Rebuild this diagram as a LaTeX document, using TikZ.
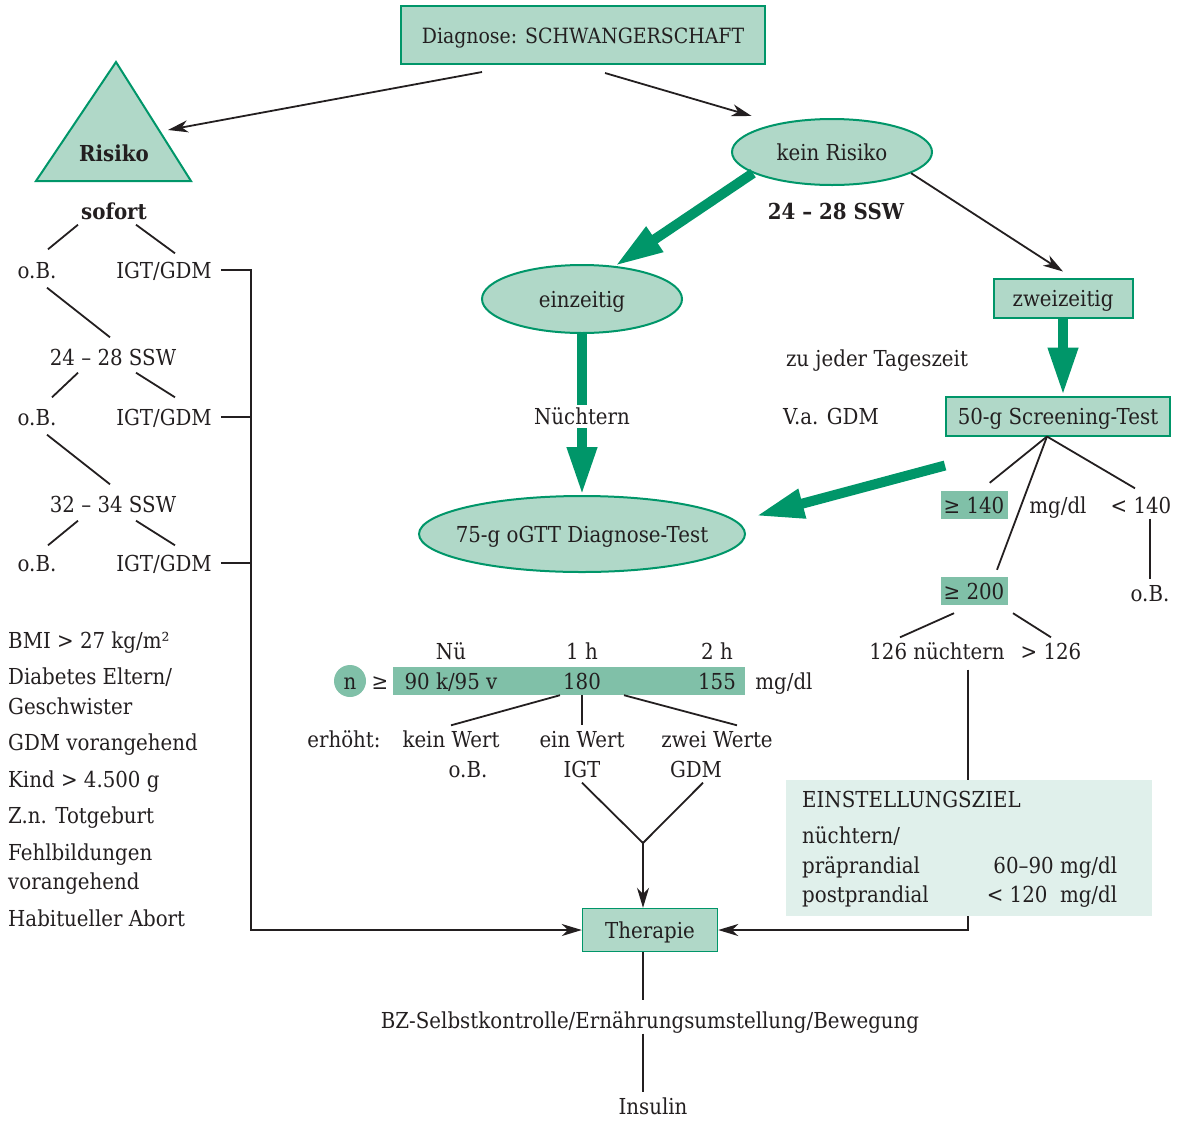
\documentclass[tikz,border=0pt]{standalone}
\usepackage{fontspec}
\setmainfont{DejaVu Serif}[FakeStretch=0.9]
\usetikzlibrary{arrows.meta,shapes.geometric}
\definecolor{ink}{RGB}{35,31,32}
\definecolor{gdmgreen}{RGB}{0,150,105}
\definecolor{gdmfill}{RGB}{176,216,200}
\definecolor{gdmdark}{RGB}{128,192,168}
\definecolor{gdmpale}{RGB}{224,240,235}

\begin{document}
\fontsize{22}{29.5}\selectfont
\begin{tikzpicture}[x=1pt,y=-1pt,color=ink,
  every node/.style={text height=19pt,text depth=2pt,inner sep=3pt},
  box/.style={draw=gdmgreen,line width=2pt,fill=gdmfill},
  oval/.style={ellipse,draw=gdmgreen,line width=2pt,fill=gdmfill,inner sep=0pt},
  val/.style={fill=gdmdark},
  tie/.style={line width=1.8pt},
  flow/.style={line width=1.8pt,-{Stealth[length=20pt,width=12pt,inset=6pt]}},
  bigflow/.style={draw=gdmgreen,line width=10pt,-{Triangle[length=48pt,width=28pt]}}]

\useasboundingbox (0,0) rectangle (1178,1120);

\draw [gdmgreen,fill=gdmfill,line width=2pt] (116,62) -- (191,181) -- (36,181) -- cycle;
\coordinate (riskedge) at (168,130);

\node[box,minimum width=364,minimum height=58,font=\fontsize{21}{26}\selectfont] (diag) at (583,35) {Diagnose: SCHWANGERSCHAFT};
\node[font=\bfseries] (risk) at (114,153) {Risiko};
\node[oval,minimum width=200,minimum height=66] (kein) at (832,152) {kein Risiko};
\node[font=\bfseries] (ssw) at (836,211) {24 – 28 SSW};
\node[oval,minimum width=200,minimum height=68] (einz) at (582,299) {einzeitig};
\node[box,minimum width=139,minimum height=39] (zwei) at (1063,298) {zweizeitig};
\node (tag) at (877,358) {zu jeder Tageszeit};
\node (verd) at (831,416) {V.a. GDM};
\node[box,minimum width=224,minimum height=39,inner xsep=0pt] (screen) at (1058,416) {50-g Screening-Test};
\node[oval,minimum width=326,minimum height=76,inner xsep=-14pt] (ogtt) at (582,534) {75-g oGTT Diagnose-Test};
\node[val,minimum width=67,minimum height=28,inner xsep=0pt] (ge140) at (974,505) {≥ 140};
\node (unit1) at (1058,505) {mg/dl};
\node (lt140) at (1141,505) {< 140};
\node (obr) at (1150,593) {o.B.};
\node[val,minimum width=67,minimum height=28,inner xsep=0pt] (ge200) at (974,591) {≥ 200};
\node (n126) at (937,651) {126 nüchtern};
\node (gt126) at (1051,651) {> 126};

\node[font=\bfseries] (sofort) at (114,211) {sofort};
\node (ob1) at (37,270) {o.B.};
\node (igt1) at (164,270) {IGT/GDM};
\node (ssw1) at (113,357) {24 – 28 SSW};
\node (ob2) at (37,417) {o.B.};
\node (igt2) at (164,417) {IGT/GDM};
\node (ssw2) at (113,504) {32 – 34 SSW};
\node (ob3) at (37,563) {o.B.};
\node (igt3) at (164,563) {IGT/GDM};
\coordinate (bus) at (251,930);

\node[anchor=base west,inner sep=0pt] (factors) at (8,648) {\begin{tabular}[t]{@{}l@{}}
BMI > 27 kg/m²\\[7pt] Diabetes Eltern/\\ Geschwister\\[7pt] GDM vorangehend\\[7pt]
Kind > 4.500 g\\[7pt] Z.n. Totgeburt\\[7pt] Fehlbildungen\\ vorangehend\\[7pt] Habitueller Abort
\end{tabular}};

\node (nue) at (451,651) {Nü};
\node (h1) at (582,651) {1 h};
\node (h2) at (717,651) {2 h};
\node[circle,fill=gdmdark,minimum size=32,inner sep=0pt] (n) at (350,681) {n};
\node (geq) at (380,681) {≥};
\node[val,minimum width=352,minimum height=28] (bar) at (569,681) {};
\node (nuewert) at (451,681) {90 k/95 v};
\node (wert1) at (582,681) {180};
\node (wert2) at (717,681) {155};
\node (unit2) at (784,681) {mg/dl};
\node (erh) at (344,739) {erhöht:};
\node (kein0) at (451,739) {kein Wert};
\node (ein1) at (582,739) {ein Wert};
\node (zwei2) at (717,739) {zwei Werte};
\node (ob4) at (468,769) {o.B.};
\node (igt4) at (582,769) {IGT};
\node (gdm4) at (696,769) {GDM};
\coordinate (join) at (643,843);

\node[box,minimum width=135,minimum height=43,line width=1.4pt] (ther) at (650,930) {Therapie};
\node (bz) at (650,1020) {BZ-Selbstkontrolle/Ernährungsumstellung/Bewegung};
\node (ins) at (653,1106) {Insulin};

\draw[flow] ([xshift=-101pt,yshift=-7pt]diag.south) -- (riskedge);
\draw[flow] ([xshift=22pt,yshift=-8pt]diag.south) -- ([xshift=-9pt,yshift=12pt]kein.north west);
\draw[flow] (kein.-15) -- ([yshift=6pt]zwei.north);
\draw[bigflow] (kein.195) -- (einz.45);
\draw[bigflow] (einz.south) -- (ogtt.north);
\node[fill=white,inner sep=1pt] (nuechtern) at (582,416) {Nüchtern};
\draw[bigflow] (zwei.south) -- (zwei.south |- screen.north);
\draw[bigflow] ([yshift=-29pt]screen.south west) -- ([xshift=10pt,yshift=18pt]ogtt.east);

\draw[tie] ([xshift=-11pt]screen.south) -- ([xshift=-18pt,yshift=8pt]ge140.north east);
\draw[tie] ([xshift=-11pt]screen.south) -- ([xshift=-6pt,yshift=3pt]lt140.north);
\draw[tie] ([xshift=-11pt]screen.south) -- ([xshift=23pt,yshift=7pt]ge200.north);
\draw[tie] (lt140.south -| obr) -- (obr.north);
\draw[tie] ([xshift=-20pt,yshift=-8pt]ge200.south) -- ([xshift=-37pt]n126.north);
\draw[tie] ([xshift=39pt,yshift=-8pt]ge200.south) -- (gt126.north);

\draw[tie] ([xshift=-36pt]sofort.south) -- ([xshift=11pt,yshift=7pt]ob1.north);
\draw[tie] ([xshift=22pt]sofort.south) -- ([xshift=11pt,yshift=3pt]igt1.north);
\draw[tie] ([xshift=10pt,yshift=-4pt]ob1.south) -- ([xshift=-3pt,yshift=6pt]ssw1.north);
\draw[tie] ([xshift=-35pt,yshift=-2pt]ssw1.south) -- ([xshift=15pt,yshift=6pt]ob2.north);
\draw[tie] ([xshift=23pt,yshift=-2pt]ssw1.south) -- ([xshift=11pt,yshift=6pt]igt2.north);
\draw[tie] ([xshift=10pt,yshift=-4pt]ob2.south) -- ([xshift=-3pt,yshift=6pt]ssw2.north);
\draw[tie] ([xshift=-35pt,yshift=-3pt]ssw2.south) -- ([xshift=11pt,yshift=4pt]ob3.north);
\draw[tie] ([xshift=23pt,yshift=-3pt]ssw2.south) -- ([xshift=11pt,yshift=4pt]igt3.north);
\draw[flow,shorten <=6pt] (igt1.east) -| (bus) -- (ther.west);
\draw[tie,shorten <=6pt] (igt2.east) -- (igt2.east -| bus);
\draw[tie,shorten <=6pt] (igt3.east) -- (igt3.east -| bus);

\draw[tie] ([xshift=-9pt]bar.south) -- (kein0.north);
\draw[tie] (bar.south -| ein1) -- (ein1.north);
\draw[tie] ([xshift=55pt]bar.south) -- ([xshift=20pt]zwei2.north);
\draw[tie] (igt4.south) -- (join);
\draw[tie] ([xshift=7pt]gdm4.south) -- (join);
\draw[flow] (join) -- (join |- ther.north);
\draw[tie,shorten >=6pt] (ther.south -| join) -- (bz.north -| join);
\draw[tie] (bz.south -| join) -- (ins.north -| join);

\draw[flow,shorten <=5pt] ([xshift=31pt]n126.south) |- (ther.east);
\node[fill=gdmpale,minimum width=366,minimum height=136] (ziel) at (969,848) {};
\node[anchor=base west,inner sep=0pt] (zieltext) at (802,807) {\begin{tabular*}{315pt}[t]{@{\extracolsep{\fill}}lr@{}}
\multicolumn{2}{@{}l}{EINSTELLUNGSZIEL}\\[7pt]
nüchtern/ & \\
präprandial & 60–90 mg/dl\\
postprandial & < 120\ \ mg/dl
\end{tabular*}};

\end{tikzpicture}
\end{document}
